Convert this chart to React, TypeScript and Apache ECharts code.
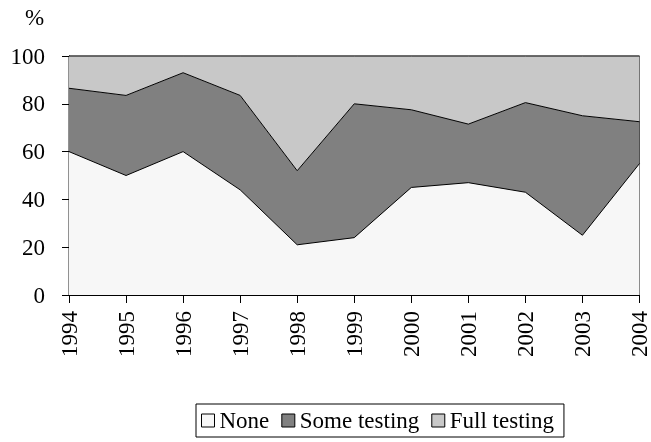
import React, { useEffect, useRef } from "react";
import * as echarts from "echarts";

const years = ["1994", "1995", "1996", "1997", "1998", "1999", "2000", "2001", "2002", "2003", "2004"];
const noneVals = [60, 50, 60, 44, 21, 24, 45, 47, 43, 25, 55];
const someVals = [26.5, 33.5, 33, 39.5, 31, 56, 32.5, 24.5, 37.5, 50, 17.5];
const fullVals = [13.5, 16.5, 7, 16.5, 48, 20, 22.5, 28.5, 19.5, 25, 27.5];

const FONT = "'Liberation Serif', 'Times New Roman', serif";

export default function App() {
  const ref = useRef<HTMLDivElement>(null);
  useEffect(() => {
    if (!ref.current) return;
    const chart = echarts.init(ref.current, undefined, { renderer: "svg" });
    const mk = (name: string, data: number[], color: string) => ({
      name,
      type: "line",
      stack: "total",
      data,
      symbol: "none",
      lineStyle: { color: "#000", width: 1 },
      areaStyle: { color, opacity: 1 },
      itemStyle: { color, borderColor: "#000", borderWidth: 1 },
    });
    chart.setOption({
      animation: false,
      textStyle: { fontFamily: FONT, color: "#000" },
      grid: {
        left: 69,
        right: 9,
        top: 56,
        bottom: 147,
        show: true,
        borderColor: "#222",
        borderWidth: 1,
        backgroundColor: "transparent",
      },
      graphic: [
        {
          type: "text",
          left: 25,
          top: 6,
          style: { text: "%", font: `23px ${FONT}`, fill: "#000" },
        },
      ],
      legend: {
        bottom: 5,
        left: 196,
        data: ["None", "Some testing", "Full testing"],
        icon: "rect",
        itemWidth: 13,
        itemHeight: 13,
        itemGap: 12,
        padding: [5, 10, 5, 5],
        borderColor: "#000",
        borderWidth: 1,
        textStyle: { fontFamily: FONT, fontSize: 23, color: "#000" },
        itemStyle: { borderColor: "#000", borderWidth: 1 },
      },
      xAxis: {
        type: "category",
        boundaryGap: false,
        data: years,
        axisLine: { lineStyle: { color: "#000" } },
        axisTick: { show: true, length: 8, lineStyle: { color: "#000" }, alignWithLabel: true },
        axisLabel: { rotate: 90, fontFamily: FONT, fontSize: 23, color: "#000", margin: 16 },
        splitLine: { show: false },
      },
      yAxis: {
        type: "value",
        min: 0,
        max: 100,
        interval: 20,
        axisLine: { show: true, lineStyle: { color: "#000" } },
        axisTick: { show: true, length: 7, lineStyle: { color: "#000" } },
        axisLabel: { fontFamily: FONT, fontSize: 23, color: "#000", margin: 24 },
        splitLine: { show: false },
      },
      series: [
        mk("None", noneVals, "#f7f7f7"),
        mk("Some testing", someVals, "#808080"),
        mk("Full testing", fullVals, "#c8c8c8"),
      ],
    });
    return () => chart.dispose();
  }, []);
  return (
    <div
      ref={ref}
      style={{ position: "fixed", left: 0, top: 0, width: 651, height: 442 }}
    />
  );
}
